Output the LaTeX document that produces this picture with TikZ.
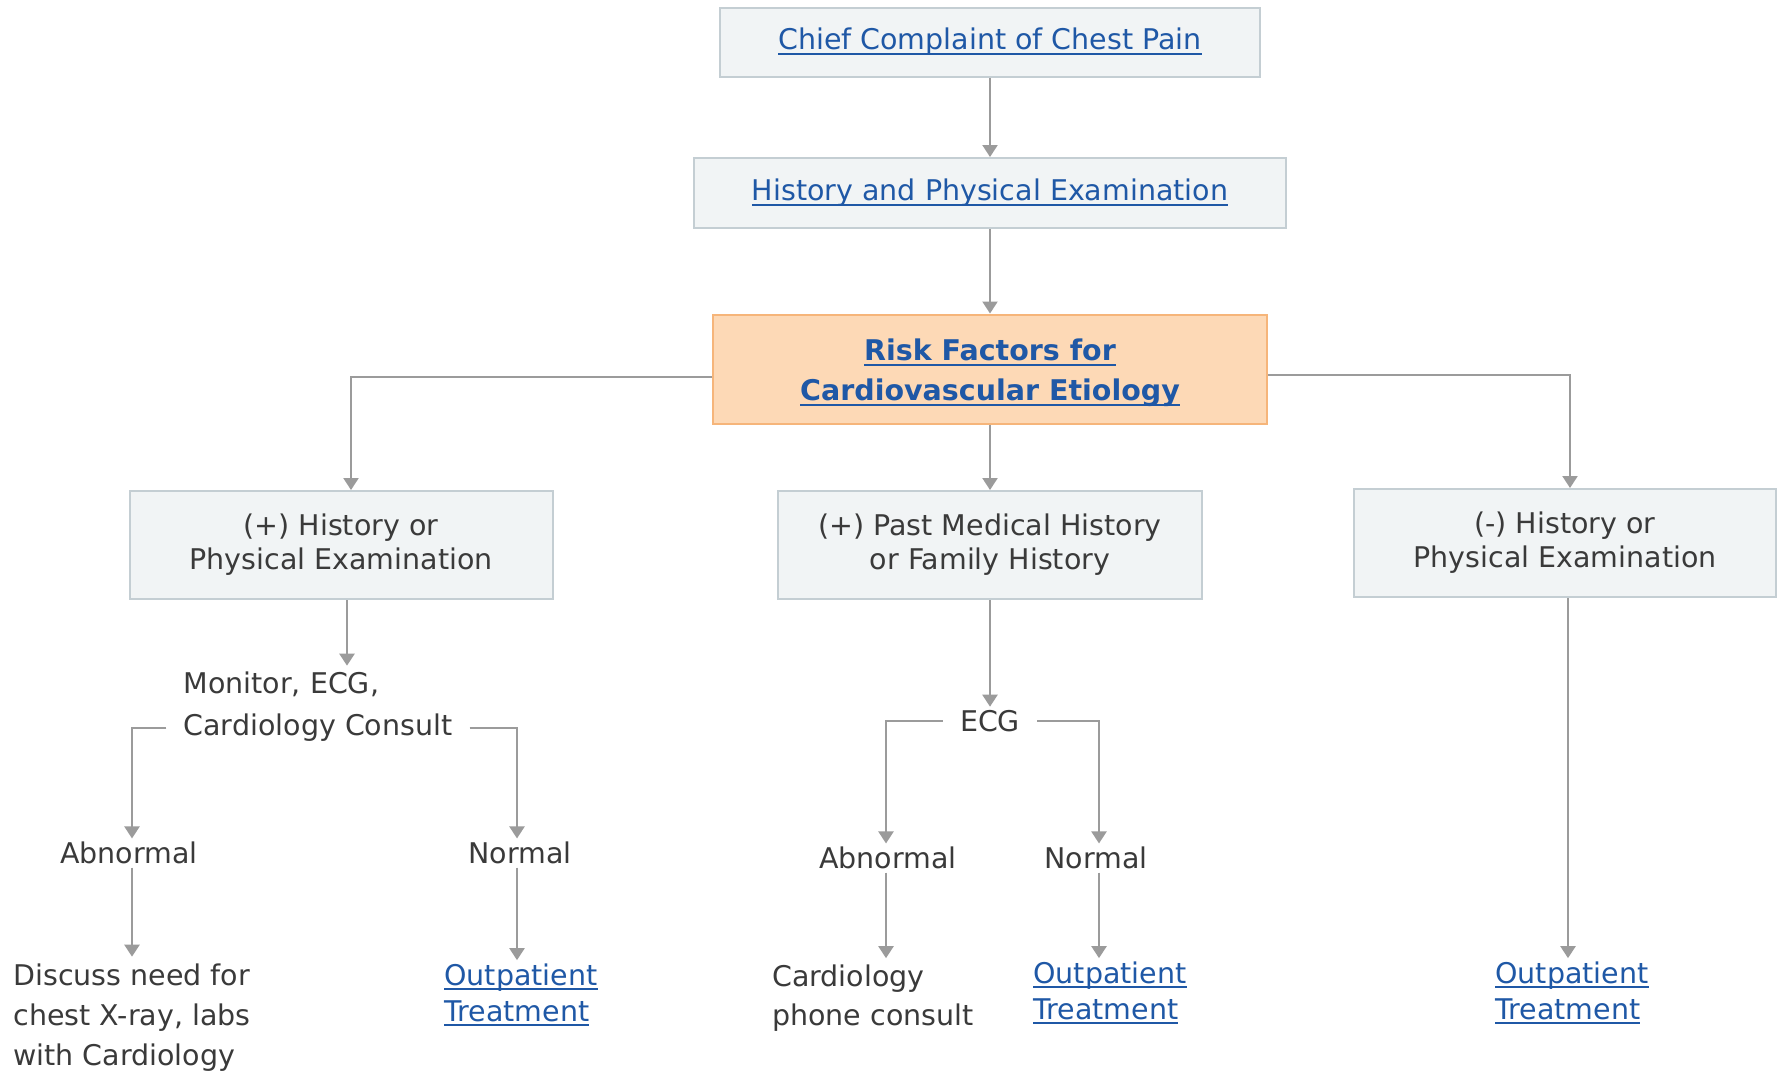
\documentclass[tikz,border=0pt]{standalone}
\usepackage{fontspec}
\setmainfont{DejaVu Sans}
\usetikzlibrary{arrows.meta, positioning}
\definecolor{boxfill}{HTML}{F1F4F5}
\definecolor{boxline}{HTML}{C4CED3}
\definecolor{riskfill}{HTML}{FDD9B6}
\definecolor{riskline}{HTML}{F6B57A}
\definecolor{linkblue}{HTML}{1F58A6}
\definecolor{txtgray}{HTML}{3A3A3A}
\definecolor{arrowgray}{HTML}{9B9B9B}
\newcommand{\linktext}[1]{\setbox0\hbox{#1}\rlap{\rule[-5pt]{\wd0}{2pt}}\box0}
\tikzstyle{box} = [rectangle, draw=boxline, fill=boxfill, line width=2pt, align=center, text=txtgray, inner sep=0pt]
\tikzstyle{riskbox} = [box, draw=riskline, fill=riskfill, text=linkblue, font=\fontsize{28.5}{40}\selectfont]
\tikzstyle{plain} = [align=left, text=txtgray]
\tikzstyle{outlink} = [align=left, text=linkblue, font=\fontsize{28.5}{36}\selectfont]
\tikzstyle{arrow} = [line width=2.2pt, draw=arrowgray, -{Triangle[width=15pt,length=12pt]}]

\begin{document}
\begin{tikzpicture}[x=1pt, y=-1pt, every node/.style={font=\fontsize{28.5}{34}\selectfont}]
        \fill[white] (0,0) rectangle (1779,1071);
        \useasboundingbox (0,0) rectangle (1779,1071);

        % top column
        \node(chief) [box, text=linkblue, minimum width=540pt, minimum height=69pt] at (990,42) {\linktext{Chief Complaint of Chest Pain}};
        \node(hpe) [box, text=linkblue, minimum width=592pt, minimum height=70pt] at (990,193) {\linktext{History and Physical Examination}};
        \node(risk) [riskbox, minimum width=554pt, minimum height=109pt] at (990,369) {};
        \node(risklabel) at (990,373) [text=linkblue, align=center, font=\fontsize{28.5}{40}\selectfont] {\linktext{\bfseries Risk Factors for}\\\linktext{\bfseries Cardiovascular Etiology}};

        % three branches
        \node(poshx) [box, minimum width=423pt, minimum height=108pt] at (341,545) {(+) History or\\Physical Examination};
        \node(pmh) [box, minimum width=424pt, minimum height=108pt] at (990,545) {(+) Past Medical History\\or Family History};
        \node(neghx) [box, minimum width=422pt, minimum height=108pt] at (1565,543) {(-) History or\\Physical Examination};

        % left branch
        \node(monitor) [plain, inner xsep=17pt, font=\fontsize{28.5}{42}\selectfont] at (318,707) {Monitor, ECG,\\Cardiology Consult};
        \node(abn1) [plain] at (129,853) {Abnormal};
        \node(norm1) [plain] at (520,853) {Normal};
        \node(discuss) [plain, font=\fontsize{28.5}{40}\selectfont] at (132,1018) {Discuss need for\\chest X-ray, labs\\with Cardiology};
        \node(out1) [outlink] at (521,995) {\linktext{Outpatient}\\\linktext{Treatment}};

        % middle branch
        \node(ecg) [plain, inner xsep=17pt] at (990,721) {ECG};
        \node(abn2) [plain] at (888,858) {Abnormal};
        \node(norm2) [plain] at (1096,858) {Normal};
        \node(cardio) [plain, font=\fontsize{28.5}{39}\selectfont] at (873,998) {Cardiology\\phone consult};
        \node(out2) [outlink] at (1110,993) {\linktext{Outpatient}\\\linktext{Treatment}};

        % right branch
        \node(out3) [outlink] at (1572,993) {\linktext{Outpatient}\\\linktext{Treatment}};

        \draw[arrow] (chief) -- (hpe);
        \draw[arrow] (hpe) -- (risk);
        \draw[arrow] (risk) -- (pmh);
        \draw[arrow] ([yshift=-8pt]risk.west) -| ([xshift=10pt]poshx.north);
        \draw[arrow] ([yshift=-6pt]risk.east) -| ([xshift=5pt]neghx.north);

        \draw[arrow] ([xshift=6pt]poshx.south) -- ([xshift=6pt,yshift=3pt]poshx.south |- monitor.north);
        \draw[arrow] ([yshift=-21pt]monitor.west) -| ([xshift=3pt]abn1.north);
        \draw[arrow] ([yshift=-21pt]monitor.east) -| ([xshift=-3pt]norm1.north);
        \draw[arrow] ([xshift=3pt]abn1.south) -- ([xshift=3pt,yshift=4pt]abn1.south |- discuss.north);
        \draw[arrow] ([xshift=-3pt]norm1.south) -- ([xshift=-3pt]norm1.south |- out1.north);

        \draw[arrow] (pmh) -- (ecg);
        \draw[arrow] (ecg.west) -| ([xshift=-2pt]abn2.north);
        \draw[arrow] (ecg.east) -| ([xshift=3pt]norm2.north);
        \draw[arrow] ([xshift=-2pt]abn2.south) -- ([xshift=-2pt,yshift=3pt]abn2.south |- cardio.north);
        \draw[arrow] ([xshift=3pt]norm2.south) -- ([xshift=3pt]norm2.south |- out2.north);

        \draw[arrow] ([xshift=3pt]neghx.south) -- ([xshift=3pt]neghx.south |- out3.north);
    \end{tikzpicture}
\end{document}
